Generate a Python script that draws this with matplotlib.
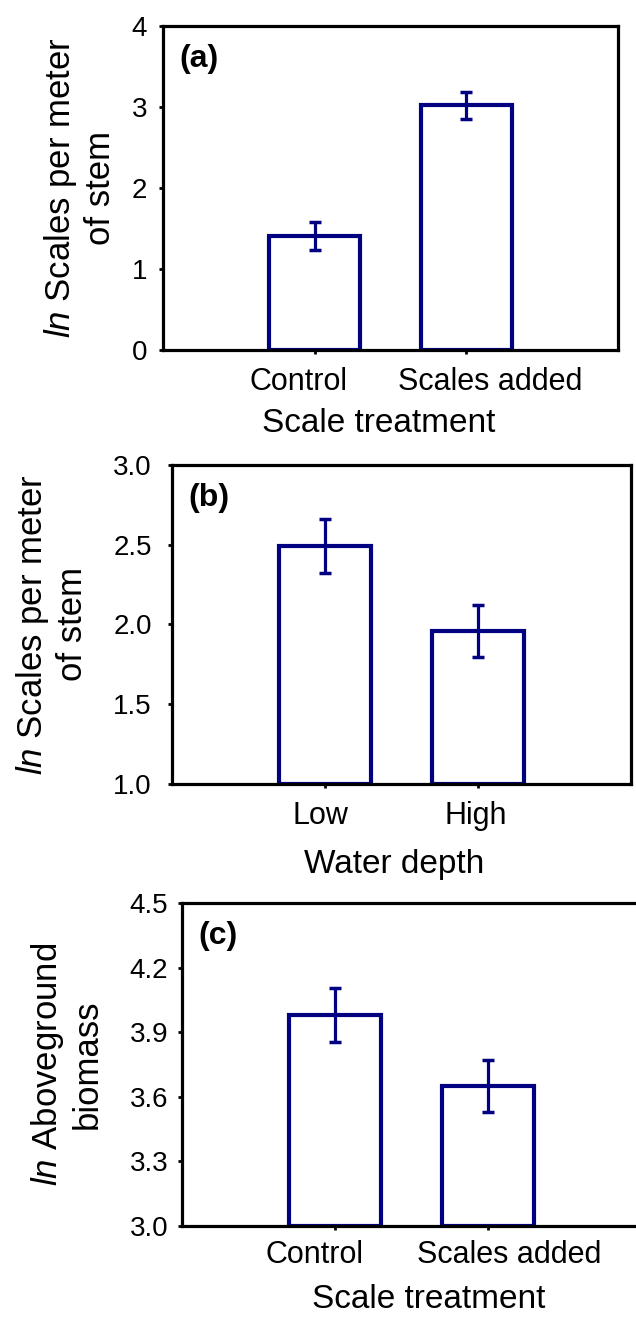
import matplotlib
matplotlib.use("Agg")
import matplotlib.pyplot as plt
import matplotlib.transforms as mtransforms
import numpy as np

plt.rcParams['font.family'] = ['Liberation Sans', 'DejaVu Sans']
plt.rcParams['mathtext.fontset'] = 'custom'
plt.rcParams['mathtext.rm'] = 'Liberation Sans'
plt.rcParams['mathtext.it'] = 'Liberation Sans:italic'

navy = '#000080'

# panel (a)
a_labels = ['Control', 'Scales added']
a_means = [1.41, 3.02]
a_se = [0.17, 0.17]
a_yticks = [0, 1, 2, 3, 4]
a_ticklabels = ['0', '1', '2', '3', '4']

# panel (b)
b_labels = ['Low', 'High']
b_means = [2.49, 1.96]
b_se = [0.17, 0.165]
b_yticks = [1.0, 1.5, 2.0, 2.5, 3.0]
b_ticklabels = ['1.0', '1.5', '2.0', '2.5', '3.0']

# panel (c)
c_labels = ['Control', 'Scales added']
c_means = [3.98, 3.65]
c_se = [0.125, 0.12]
c_yticks = [3.0, 3.3, 3.6, 3.9, 4.2, 4.5]
c_ticklabels = ['3.0', '3.3', '3.6', '3.9', '4.2', '4.5']

fig = plt.figure(figsize=(6.36, 13.22), dpi=100)


def panel(rect, labels, means, se, yticks, yticklabels, ylabel, xlabel, tag,
          ylab_x, xlab_pos, tick_shift, xpad, ypad):
    ax = fig.add_axes(rect)
    x = np.arange(len(labels))
    base = yticks[0]
    ax.bar(x, np.array(means) - base, bottom=base, width=0.6, color='white',
           edgecolor=navy, linewidth=3.0, zorder=2)
    ax.errorbar(x, means, yerr=se, fmt='none', ecolor=navy, elinewidth=2.3,
                capsize=4, capthick=2.5, zorder=3)
    ax.set_xlim(-1, 2)
    ax.set_ylim(yticks[0], yticks[-1])
    ax.set_yticks(yticks)
    ax.set_yticklabels(yticklabels, fontsize=20)
    ax.set_xticks(x)
    ax.set_xticklabels(labels, fontsize=22)
    ax.tick_params(direction='out', length=3, width=2)
    ax.tick_params(axis='x', pad=xpad)
    ax.tick_params(axis='y', pad=ypad)
    # labels under the bars are spread a bit apart in the original
    for lab, dx in zip(ax.xaxis.get_majorticklabels(), tick_shift):
        lab.set_transform(lab.get_transform() +
                          mtransforms.ScaledTranslation(dx / 72, 0, fig.dpi_scale_trans))
    for s in ax.spines.values():
        s.set_linewidth(2.3)
    ax.set_ylabel(ylabel, fontsize=25, linespacing=1.2)
    ax.yaxis.set_label_coords(ylab_x, 0.5)
    ax.set_xlabel(xlabel, fontsize=24)
    ax.xaxis.set_label_coords(xlab_pos[0], xlab_pos[1])
    ax.annotate(tag, xy=(0, 1), xycoords='axes fraction', xytext=(12, -13),
                textcoords='offset points', fontsize=23, fontweight='bold',
                ha='left', va='top')
    return ax


panel([0.2563, 0.7352, 0.7154, 0.2451], a_labels, a_means, a_se, a_yticks,
      a_ticklabels, '$\\mathit{ln}$ Scales per meter\nof stem', 'Scale treatment',
      '(a)', -0.101, (0.473, -0.179), [-11.5, 17], 9, 8.6)

panel([0.2704, 0.4070, 0.7217, 0.2413], b_labels, b_means, b_se, b_yticks,
      b_ticklabels, '$\\mathit{ln}$ Scales per meter\nof stem', 'Water depth',
      '(b)', -0.181, (0.484, -0.204), [-3.6, -1.4], 9, 11.5)

panel([0.2862, 0.0726, 0.7217, 0.2443], c_labels, c_means, c_se, c_yticks,
      c_ticklabels, '$\\mathit{ln}$ Aboveground\nbiomass', 'Scale treatment',
      '(c)', -0.170, (0.538, -0.180), [-15, 15], 7, 7)

fig.savefig('out.png', dpi=100)
